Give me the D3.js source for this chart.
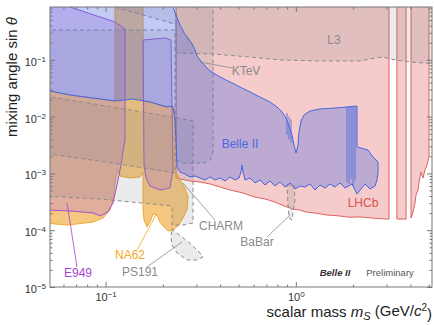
<!DOCTYPE html>
<html>
<head>
<meta charset="utf-8">
<script src="https://cdn.jsdelivr.net/npm/d3@7"></script>
<style>
  body { margin: 0; background: #fff; }
  svg { display: block; }
  text { font-family: "Liberation Sans", Arial, sans-serif; }
</style>
</head>
<body>
<div id="chart"></div>
<script>
const W = 434, H = 325;
const plot = { left: 50, right: 432, top: 7, bottom: 287 };

// axes
const massDomain = [0.051, 5.2];
const sinDomain = [1e-5, 0.85];
const xDecades = [0.1, 1];
const yDecades = [1e-5, 1e-4, 1e-3, 1e-2, 1e-1];

// exclusion regions, [mass GeV, sin theta]
const lhcbMain = [[0.2345,1.2],[3.09,1.2],[3.09,0.000157],[3.017,0.000157],[2.6,0.000162],[2.175,0.000171],[1.9,0.000169],[1.7,0.000178],[1.459,0.000185],[1.26,0.0002],[1.12,0.00021],[1.052,0.000227],[0.96,0.000235],[0.9322,0.000246],[0.86,0.00027],[0.7966,0.000301],[0.74,0.00033],[0.6888,0.000354],[0.6102,0.000384],[0.56,0.00042],[0.5279,0.000452],[0.4509,0.00051],[0.3996,0.000576],[0.3539,0.000651],[0.3135,0.000706],[0.2778,0.000735],[0.2461,0.000797],[0.2345,0.00083]];
const lhcbMid = [[3.40,1.2],[3.80,1.2],[3.80,0.000157],[3.40,0.000157]];
const lhcbHigh = [[4.034,1.2],[5.015,1.2],[5.015,0.00194],[4.895,0.00141],[4.779,0.00115],[4.665,0.00083],[4.553,0.00106],[4.444,0.000706],[4.391,0.00051],[4.286,0.000417],[4.234,0.000301],[4.133,0.000209],[4.034,0.000164]];

const l3Region = [[0.1148,1.2],[0.1148,0.82],[0.2128,0.4628],[0.2345,0.41],[0.2345,0.1317],[0.367,0.1265],[0.5742,0.112],[0.8259,0.0992],[1.34,0.0953],[2.175,0.0953],[2.609,0.1076],[2.867,0.112],[3.324,0.0992],[3.985,0.0915],[5.5,0.0844],[5.5,1.2]];
const ktevRegion = [[0.2345,1.2],[0.367,1.2],[0.367,0.00238],[0.3582,0.00179],[0.3331,0.00152],[0.2552,0.00152],[0.2345,0.00172]];
const charmUpper = [[0.048,0.3346],[0.2317,0.3346],[0.2317,0.001016],[0.1094,0.00152],[0.048,0.00226]];
const charmLower = [[0.048,0.02305],[0.0935,0.016],[0.2234,0.00984],[0.2881,0.00837],[0.2881,0.000134],[0.2552,0.000123],[0.2234,0.000123],[0.2234,0.000267],[0.0935,0.000354],[0.048,0.0004]];
const ps191Region = [[0.2234,0.000109],[0.2261,0.000101],[0.2522,0.0000759],[0.2846,0.0000549],[0.3135,0.0000397],[0.3252,0.0000337],[0.3023,0.0000299],[0.2679,0.0000299],[0.2373,0.0000397],[0.2234,0.0000549],[0.2207,0.0000759]];
const babarRegion = [[0.899,0.000625],[0.978,0.000625],[0.99,0.00034],[0.967,0.000209],[0.955,0.000151],[0.921,0.000164],[0.91,0.000278]];

const e949Low = [[0.048,1.19],[0.065,0.85],[0.112,0.4628],[0.1265,0.3485],[0.1265,0.00387],[0.1234,0.00238],[0.1205,0.00141],[0.1148,0.000625],[0.1094,0.000301],[0.1029,0.000209],[0.0935,0.000178],[0.0859,0.000201],[0.065,0.000218],[0.048,0.000227]];
const e949High = [[0.1573,0.2232],[0.2052,0.2419],[0.2207,0.2232],[0.2261,0.00115],[0.2181,0.000553],[0.1932,0.00051],[0.1712,0.0006],[0.1631,0.00083],[0.1592,0.00141]];

const na62Region = [[0.048,0.0294],[0.065,0.024],[0.0935,0.0204],[0.112,0.01882],[0.112,1.2],[0.1573,1.2],[0.1573,0.019],[0.1712,0.01807],[0.2103,0.01476],[0.2234,0.01537],[0.2317,0.0131],[0.2317,0.00115],[0.2461,0.000765],[0.2615,0.000553],[0.2712,0.000384],[0.2679,0.000227],[0.2552,0.000164],[0.2402,0.000119],[0.2261,0.000101],[0.2128,0.0000968],[0.2002,0.000119],[0.1932,0.000139],[0.1863,0.000185],[0.1775,0.000193],[0.1712,0.000139],[0.1651,0.000114],[0.1592,0.000151],[0.1573,0.000227],[0.1573,0.001058],[0.1517,0.000864],[0.1344,0.00083],[0.119,0.0009],[0.1148,0.00115],[0.112,0.000625],[0.1094,0.00034],[0.1054,0.000227],[0.0969,0.000164],[0.0859,0.000139],[0.0627,0.000123],[0.048,0.000134]];

const belle2Region = [[0.048,1.2],[0.2261,1.2],[0.2261,0.85],[0.2345,0.615],[0.2461,0.41],[0.2584,0.2965],[0.2712,0.2419],[0.2846,0.1897],[0.2951,0.1488],[0.3023,0.1167],[0.3135,0.0992],[0.3331,0.0778],[0.3539,0.0635],[0.3996,0.0498],[0.4509,0.0406],[0.5088,0.0332],[0.5742,0.0271],[0.6481,0.0221],[0.7317,0.01807],[0.7966,0.01476],[0.8461,0.01205],[0.8881,0.00945],[0.9209,0.00683],[0.955,0.00474],[0.9784,0.00316],[1.0024,0.00229],[1.027,0.00316],[1.0394,0.00536],[1.065,0.00837],[1.1044,0.01067],[1.188,0.01255],[1.34,0.01361],[1.6075,0.01417],[1.858,0.01476],[2.098,0.01537],[2.098,0.00292],[2.397,0.00258],[2.546,0.00194],[2.705,0.00159],[2.705,0.001016],[2.673,0.000765],[2.609,0.0006],[2.455,0.000531],[2.311,0.000651],[2.098,0.000434],[1.975,0.000651],[1.814,0.000553],[1.708,0.000678],[1.6075,0.000576],[1.513,0.000651],[1.424,0.000553],[1.34,0.000625],[1.261,0.00051],[1.188,0.000651],[1.118,0.000576],[1.052,0.0006],[0.9903,0.000531],[0.9322,0.000678],[0.8774,0.000576],[0.8259,0.000706],[0.7775,0.0006],[0.7317,0.000735],[0.6888,0.000625],[0.6481,0.000765],[0.6102,0.000678],[0.5742,0.00083],[0.5407,0.000765],[0.5279,0.001058],[0.5213,0.00141],[0.515,0.001058],[0.5028,0.00083],[0.4791,0.000765],[0.4509,0.000864],[0.4244,0.000735],[0.3996,0.00083],[0.376,0.000765],[0.3539,0.000864],[0.3331,0.000765],[0.3135,0.00083],[0.2951,0.0009],[0.2778,0.000864],[0.2615,0.000976],[0.2461,0.001058],[0.2373,0.001296],[0.2345,0.00387],[0.2317,0.00871],[0.2261,0.01417],[0.2234,0.01537],[0.2103,0.01476],[0.1712,0.01807],[0.1393,0.0204],[0.112,0.01882],[0.0935,0.0204],[0.065,0.024],[0.048,0.0294]];
// narrow resonance vetoes: [mass, upper, lower]
const belle2Spikes = [[0.899,0.01157,0.00474],[0.921,0.01,0.004],[0.9436,0.009,0.0035],[1.858,0.01476,0.0007],[1.905,0.01476,0.00065],[1.951,0.01476,0.0008],[1.999,0.01476,0.0006],[2.048,0.01476,0.00075]];

// labels: text, mass, sin, colour, leader line [m0,s0,m1,s1]
const labels = [
  ["L3", 1.588, 0.2143, "#8a8a8a", null],
  ["KTeV", 0.547, 0.061, "#8a8a8a", [0.462,0.0717,0.3135,0.0915]],
  ["Belle II", 0.5088, 0.00316, "#4a6ae0", null],
  ["LHCb", 2.256, 0.000289, "#d9534f", null],
  ["CHARM", 0.4044, 0.000114, "#8a8a8a", [0.376,0.000151,0.2552,0.000678]],
  ["BaBar", 0.6252, 0.0000595, "#8a8a8a", [0.7056,0.0000759,0.9322,0.000185]],
  ["NA62", 0.1344, 0.0000351, "#f2a91c", [0.1463,0.0000448,0.1863,0.000201]],
  ["PS191", 0.1517, 0.0000176, "#8a8a8a", [0.1651,0.0000225,0.2522,0.000062]],
  ["E949", 0.0716, 0.0000169, "#a645d0", [0.0707,0.0000225,0.0627,0.000301]]
];

const x = d3.scaleLog().domain(massDomain).range([plot.left, plot.right]);
const y = d3.scaleLog().domain(sinDomain).range([plot.bottom, plot.top]);

const svg = d3.select("#chart").append("svg").attr("width", W).attr("height", H);

svg.append("defs").append("clipPath").attr("id", "plotclip")
  .append("rect")
  .attr("x", plot.left).attr("y", plot.top)
  .attr("width", plot.right - plot.left).attr("height", plot.bottom - plot.top);

const area = svg.append("g").attr("clip-path", "url(#plotclip)");
const line = d3.line().x(d => x(d[0])).y(d => y(d[1])).curve(d3.curveLinearClosed);

const drawRegion = (pts, fill, op, stroke, dash, sw) => {
  area.append("path")
    .attr("d", line(pts))
    .attr("fill", fill)
    .attr("fill-opacity", op)
    .attr("stroke", stroke)
    .attr("stroke-width", sw || 1)
    .attr("stroke-dasharray", dash || null)
    .attr("stroke-linejoin", "round");
};

const grayFill = "#808080", grayOp = 0.16, grayLine = "#8c8c8c", dash = "4,3";

drawRegion(lhcbMain, "#e98c8c", 0.45, "#d9534f", null, 0.9);
drawRegion(lhcbMid, "#e98c8c", 0.45, "#d9534f", null, 0.9);
drawRegion(lhcbHigh, "#e98c8c", 0.45, "#d9534f", null, 0.9);
drawRegion(na62Region, "#f0a532", 0.62, "#f0a830", null, 1);
drawRegion(e949Low, "#b078d8", 0.32, "#a352d6", null, 1);
drawRegion(e949High, "#b078d8", 0.32, "#a352d6", null, 1);
[charmUpper, charmLower, l3Region, ktevRegion, ps191Region, babarRegion].forEach(r => {
  drawRegion(r, grayFill, grayOp, grayLine, dash, 1);
});
drawRegion(belle2Region, "#5a6fe0", 0.36, "#4466dd", null, 1);

area.selectAll(".spike")
  .data(belle2Spikes)
  .enter()
  .append("line")
  .attr("class", "spike")
  .attr("x1", d => x(d[0])).attr("x2", d => x(d[0]))
  .attr("y1", d => y(d[1])).attr("y2", d => y(d[2]))
  .attr("stroke", "#4466dd")
  .attr("stroke-width", 0.8);

// labels and leader lines
labels.forEach(([t, m, s, c, lead]) => {
  if (lead) {
    svg.append("line")
      .attr("x1", x(lead[0])).attr("y1", y(lead[1]))
      .attr("x2", x(lead[2])).attr("y2", y(lead[3]))
      .attr("stroke", c).attr("stroke-width", 0.8);
  }
  svg.append("text")
    .attr("x", x(m)).attr("y", y(s))
    .attr("text-anchor", "middle")
    .attr("dominant-baseline", "middle")
    .attr("font-size", 12)
    .attr("fill", c)
    .text(t);
});

svg.append("text")
  .attr("x", x(1.6075)).attr("y", y(0.0000176))
  .attr("text-anchor", "middle").attr("dominant-baseline", "middle")
  .attr("font-size", 9.5).attr("font-weight", "bold").attr("font-style", "italic")
  .attr("fill", "#333")
  .text("Belle II");
svg.append("text")
  .attr("x", x(3.129)).attr("y", y(0.0000176))
  .attr("text-anchor", "middle").attr("dominant-baseline", "middle")
  .attr("font-size", 9.5).attr("fill", "#555")
  .text("Preliminary");

// axes with inward ticks
const minorX = x.ticks().filter(v => !xDecades.some(d => Math.abs(v / d - 1) < 1e-6));
const minorY = y.ticks().filter(v => !yDecades.some(d => Math.abs(v / d - 1) < 1e-6));
const tickColor = "#777";

const styleAxis = g => {
  g.select(".domain").remove();
  g.selectAll(".tick line").attr("stroke", tickColor);
};
const powLabel = (sel) => {
  sel.each(function(v) {
    const e = Math.round(Math.log10(v));
    const t = d3.select(this);
    t.text(null);
    t.append("tspan").text("10");
    t.append("tspan").attr("dy", "-0.5em").attr("font-size", "8px").text(e < 0 ? "\u2212" + (-e) : String(e));
  });
};

const bottomG = svg.append("g").attr("transform", `translate(0,${plot.bottom})`);
bottomG.call(d3.axisBottom(x).tickValues(minorX).tickSize(-2.5).tickFormat("")).call(styleAxis);
const bottomMajor = svg.append("g").attr("transform", `translate(0,${plot.bottom})`);
bottomMajor.call(d3.axisBottom(x).tickValues(xDecades).tickSize(-5).tickPadding(6)).call(styleAxis);
bottomMajor.selectAll(".tick text").attr("font-size", 11).attr("fill", "#333").call(powLabel);

const topG = svg.append("g").attr("transform", `translate(0,${plot.top})`);
topG.call(d3.axisTop(x).tickValues(minorX).tickSize(-2.5).tickFormat("")).call(styleAxis);
topG.append("g").call(d3.axisTop(x).tickValues(xDecades).tickSize(-5).tickFormat("")).call(styleAxis);

const leftG = svg.append("g").attr("transform", `translate(${plot.left},0)`);
leftG.call(d3.axisLeft(y).tickValues(minorY).tickSize(-2.5).tickFormat("")).call(styleAxis);
const leftMajor = svg.append("g").attr("transform", `translate(${plot.left},0)`);
leftMajor.call(d3.axisLeft(y).tickValues(yDecades).tickSize(-5).tickPadding(4)).call(styleAxis);
leftMajor.selectAll(".tick text").attr("font-size", 11).attr("fill", "#333").attr("dy", "0.5em").call(powLabel);

const rightG = svg.append("g").attr("transform", `translate(${plot.right},0)`);
rightG.call(d3.axisRight(y).tickValues(minorY).tickSize(-2.5).tickFormat("")).call(styleAxis);
rightG.append("g").call(d3.axisRight(y).tickValues(yDecades).tickSize(-5).tickFormat("")).call(styleAxis);

svg.append("rect")
  .attr("x", plot.left).attr("y", plot.top)
  .attr("width", plot.right - plot.left).attr("height", plot.bottom - plot.top)
  .attr("fill", "none").attr("stroke", "#777").attr("stroke-width", 1);

// axis titles
const yTitle = svg.append("text")
  .attr("transform", `translate(13,${(plot.top + 147) / 2}) rotate(-90)`)
  .attr("text-anchor", "middle").attr("dominant-baseline", "middle")
  .attr("font-size", 15).attr("fill", "#222");
yTitle.append("tspan").text("mixing angle sin ");
yTitle.append("tspan").attr("font-style", "italic").text("\u03b8");

const xTitle = svg.append("text")
  .attr("x", plot.right).attr("y", 317)
  .attr("text-anchor", "end")
  .attr("font-size", 15).attr("fill", "#222");
xTitle.append("tspan").text("scalar mass ");
xTitle.append("tspan").attr("font-style", "italic").text("m");
xTitle.append("tspan").attr("font-style", "italic").attr("font-size", 11).attr("dy", "0.25em").text("S");
xTitle.append("tspan").attr("dy", "-0.25em").text(" (GeV/");
xTitle.append("tspan").attr("font-style", "italic").text("c");
xTitle.append("tspan").attr("font-size", 10).attr("dy", "-0.55em").text("2");
xTitle.append("tspan").attr("dy", "0.55em").text(")");
</script>
</body>
</html>
